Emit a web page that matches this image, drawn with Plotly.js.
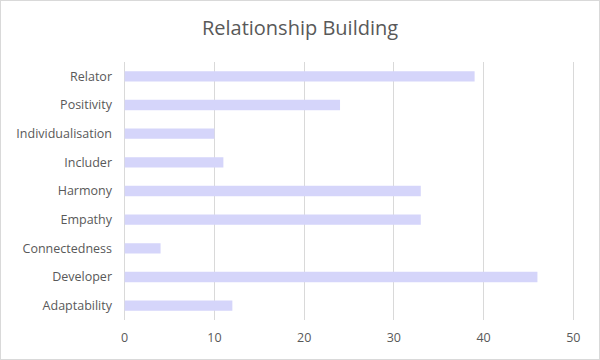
<!DOCTYPE html>
<html>
<head>
<meta charset="utf-8">
<script src="https://cdn.plot.ly/plotly-3.0.1.min.js"></script>
<style>
html,body{margin:0;padding:0;background:#fff;}
#wrap{width:600px;height:360px;box-sizing:border-box;border:1px solid #d9d9d9;}
#chart{width:598px;height:358px;}
</style>
</head>
<body>
<div id="wrap"><div id="chart"></div></div>
<script>
const categories = ["Relator","Positivity","Individualisation","Includer","Harmony","Empathy","Connectedness","Developer","Adaptability"];
const values = [39,24,10,11,33,33,4,46,12];
const xTicks = [0,10,20,30,40,50];

const trace = {
  type: 'bar',
  orientation: 'h',
  y: categories,
  x: values,
  width: 0.36,
  marker: {color: '#d5d5fa'},
  hoverinfo: 'x+y'
};

const layout = {
  width: 598, height: 358,
  margin: {l: 121, r: 23, t: 61, b: 39},
  paper_bgcolor: '#fff', plot_bgcolor: '#fff',
  title: {text: 'Relationship Building', x: 0.5, xanchor: 'center', y: 0.925, yanchor: 'middle',
          font: {family: 'Open Sans, Liberation Sans, sans-serif', size: 20, color: '#595959'}},
  font: {family: 'Open Sans, Liberation Sans, sans-serif', size: 12.5, color: '#595959'},
  xaxis: {range: [-0.3, 50.3], tickvals: xTicks, ticktext: xTicks.map(String), showgrid: true,
          gridcolor: '#d9d9d9', gridwidth: 1, zeroline: true, zerolinecolor: '#d9d9d9', zerolinewidth: 1,
          showline: false, ticks: '', fixedrange: true,
          ticklabelstandoff: 8, layer: 'below traces'},
  yaxis: {autorange: 'reversed', showgrid: false, zeroline: false, showline: false, ticks: '',
          ticklabelstandoff: 9, fixedrange: true},
  bargap: 0.6,
  showlegend: false
};

Plotly.newPlot('chart', [trace], layout, {displayModeBar: false, staticPlot: true});
</script>
</body>
</html>
